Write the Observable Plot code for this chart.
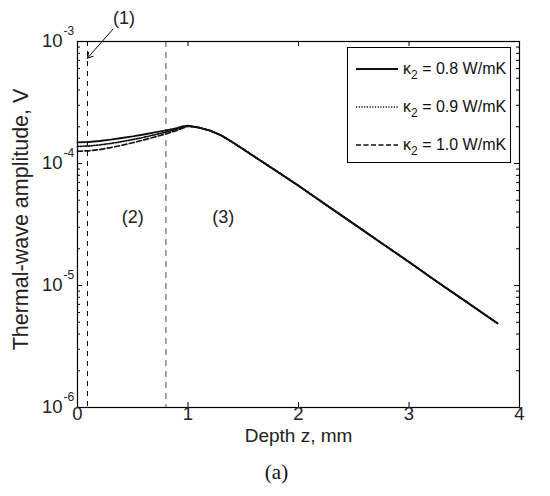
<!DOCTYPE html>
<html>
<head>
<meta charset="utf-8">
<script src="https://cdn.jsdelivr.net/npm/d3@7"></script>
<script src="https://cdn.jsdelivr.net/npm/@observablehq/plot@0.6"></script>
<style>
  body { margin: 0; background: #fff; }
  #wrap { position: relative; width: 550px; height: 496px; }
  #wrap svg { display: block; }
  #legend {
    position: absolute; left: 347px; top: 47px; width: 164px; height: 116px;
    box-sizing: border-box; border: 1.5px solid #000; background: #fff;
    font-family: "Liberation Sans", Arial, sans-serif; font-size: 16px; color: #111;
  }
  #legend .row { position: absolute; left: 8px; height: 20px; display: flex; align-items: center; white-space: nowrap; }
  #legend .row svg { margin-right: 5px; }
  #legend sub { font-size: 12px; vertical-align: -5px; line-height: 0; }
</style>
</head>
<body>
<div id="wrap"></div>
<script>
// ---- data ----
const depth = [0, 0.1, 0.2, 0.3, 0.4, 0.5, 0.6, 0.7, 0.8, 0.9, 0.95, 1.0, 1.1, 1.2, 1.3, 1.4, 1.5, 1.6, 1.8, 2.0, 2.25, 2.5, 2.75, 3.0, 3.25, 3.5, 3.8];
const amp08 = [1.49e-4, 1.50e-4, 1.53e-4, 1.57e-4, 1.62e-4, 1.67e-4, 1.73e-4, 1.80e-4, 1.87e-4, 1.95e-4, 2.01e-4, 2.04e-4, 1.97e-4, 1.86e-4, 1.70e-4, 1.50e-4, 1.31e-4, 1.14e-4, 8.67e-5, 6.58e-5, 4.58e-5, 3.20e-5, 2.23e-5, 1.56e-5, 1.08e-5, 7.55e-6, 4.9e-6];
const amp09 = [1.38e-4, 1.39e-4, 1.42e-4, 1.46e-4, 1.51e-4, 1.57e-4, 1.64e-4, 1.72e-4, 1.81e-4, 1.91e-4, 1.98e-4, 2.03e-4, 1.97e-4, 1.86e-4, 1.70e-4, 1.50e-4, 1.31e-4, 1.14e-4, 8.67e-5, 6.58e-5, 4.58e-5, 3.20e-5, 2.23e-5, 1.56e-5, 1.08e-5, 7.55e-6, 4.9e-6];
const amp10 = [1.26e-4, 1.27e-4, 1.30e-4, 1.35e-4, 1.41e-4, 1.48e-4, 1.56e-4, 1.65e-4, 1.75e-4, 1.87e-4, 1.95e-4, 2.02e-4, 1.97e-4, 1.86e-4, 1.70e-4, 1.50e-4, 1.31e-4, 1.14e-4, 8.67e-5, 6.58e-5, 4.58e-5, 3.20e-5, 2.23e-5, 1.56e-5, 1.08e-5, 7.55e-6, 4.9e-6];
const seriesNames = ["0.8", "0.9", "1.0"];

const xTicks = [0, 1, 2, 3, 4];
const yMajor = [1e-6, 1e-5, 1e-4, 1e-3];
const yExp = ["-6", "-5", "-4", "-3"];
const yMinor = [2e-6,3e-6,4e-6,5e-6,6e-6,7e-6,8e-6,9e-6, 2e-5,3e-5,4e-5,5e-5,6e-5,7e-5,8e-5,9e-5, 2e-4,3e-4,4e-4,5e-4,6e-4,7e-4,8e-4,9e-4];

const boundary1 = [0.09];
const boundary2 = [0.8];
const regionText = ["(1)", "(2)", "(3)"];
const regionX = [0.42, 0.5, 1.32];
const regionY = [1.55e-3, 3.6e-5, 3.6e-5];
const arrowData = [{x1: 0.32, y1: 1.26e-3, x2: 0.09, y2: 7.3e-4}];

const rows = (vals) => depth.map((z, i) => ({z, v: vals[i]}));
const s08 = rows(amp08), s09 = rows(amp09), s10 = rows(amp10);

const W = 550, H = 496, mL = 77, mR = 31, mT = 41, mB = 89;
const fw = W - mL - mR, fh = H - mT - mB;
const ink = "#222";

const chart = Plot.plot({
  width: W, height: H,
  marginLeft: mL, marginRight: mR, marginTop: mT, marginBottom: mB,
  style: {fontFamily: "'Liberation Sans', Arial, sans-serif", fontSize: "18px", background: "#fff", overflow: "visible"},
  x: {domain: [0, 4], axis: null},
  y: {type: "log", domain: [1e-6, 1e-3], axis: null},
  marks: [
    Plot.ruleX(boundary1, {x: d => d, stroke: "#000", strokeWidth: 1, strokeDasharray: "5,5"}),
    Plot.ruleX(boundary2, {x: d => d, stroke: "#808080", strokeWidth: 1.4, strokeDasharray: "6,5"}),
    Plot.line(s08, {x: "z", y: "v", stroke: "#111", strokeWidth: 1.9}),
    Plot.line(s09, {x: "z", y: "v", stroke: "#111", strokeWidth: 1.7, strokeDasharray: "1.2,1.5"}),
    Plot.line(s10, {x: "z", y: "v", stroke: "#111", strokeWidth: 1.7, strokeDasharray: "5,2.5"}),
    // ticks (inward)
    Plot.tickX(xTicks, {x: d => d, insetTop: fh - 5, stroke: "#000"}),
    Plot.tickX(xTicks, {x: d => d, insetBottom: fh - 5, stroke: "#000"}),
    Plot.tickY(yMajor, {y: d => d, insetRight: fw - 5, stroke: "#000"}),
    Plot.tickY(yMajor, {y: d => d, insetLeft: fw - 5, stroke: "#000"}),
    Plot.tickY(yMinor, {y: d => d, insetRight: fw - 3, stroke: "#000"}),
    Plot.tickY(yMinor, {y: d => d, insetLeft: fw - 3, stroke: "#000"}),
    Plot.frame({stroke: "#000", strokeWidth: 1.2}),
    // tick labels
    Plot.text(xTicks, {x: d => d, frameAnchor: "bottom", dy: 12, text: d => String(d), fill: ink, fontSize: 18.5}),
    Plot.text(yMajor, {y: d => d, frameAnchor: "left", dx: -15, textAnchor: "end", text: () => "10", fill: ink, fontSize: 18.5}),
    Plot.text(yMajor, {y: d => d, frameAnchor: "left", dx: -14, dy: -10, textAnchor: "start", text: yExp, fill: ink, fontSize: 12}),
    // axis labels
    Plot.text(["Depth z, mm"], {frameAnchor: "bottom", dy: 34, text: d => d, fill: ink, fontSize: 19}),
    Plot.text(["Thermal-wave amplitude, V"], {frameAnchor: "left", dx: -56, dy: -5, rotate: -90, textAnchor: "middle", text: d => d, fill: ink, fontSize: 21.5}),
    Plot.text(["(a)"], {frameAnchor: "bottom", dx: -22, dy: 71, text: d => d, fill: "#111", fontSize: 21, fontFamily: "'Liberation Serif', 'Times New Roman', serif"}),
    // region annotations
    Plot.text(regionText, {x: (d, i) => regionX[i], y: (d, i) => regionY[i], text: d => d, fill: ink, fontSize: 18}),
    Plot.arrow(arrowData, {x1: "x1", y1: "y1", x2: "x2", y2: "y2", stroke: "#000", strokeWidth: 1, headLength: 9})
  ]
});

const wrap = document.getElementById("wrap");
wrap.appendChild(chart);

// legend box
const legend = document.createElement("div");
legend.id = "legend";
const dashes = [null, "1.2,1.5", "5,2.5"];
const rowTops = [11, 49, 87];
seriesNames.forEach((name, i) => {
  const row = document.createElement("div");
  row.className = "row";
  row.style.top = rowTops[i] + "px";
  const dash = dashes[i] ? ` stroke-dasharray="${dashes[i]}"` : "";
  row.innerHTML = `<svg width="42" height="10"><line x1="0" y1="5" x2="42" y2="5" stroke="#111" stroke-width="${i === 0 ? 1.9 : 1.7}"${dash}/></svg><span>\u03ba<sub>2</sub> = ${name} W/mK</span>`;
  legend.appendChild(row);
});
wrap.appendChild(legend);
</script>
</body>
</html>
